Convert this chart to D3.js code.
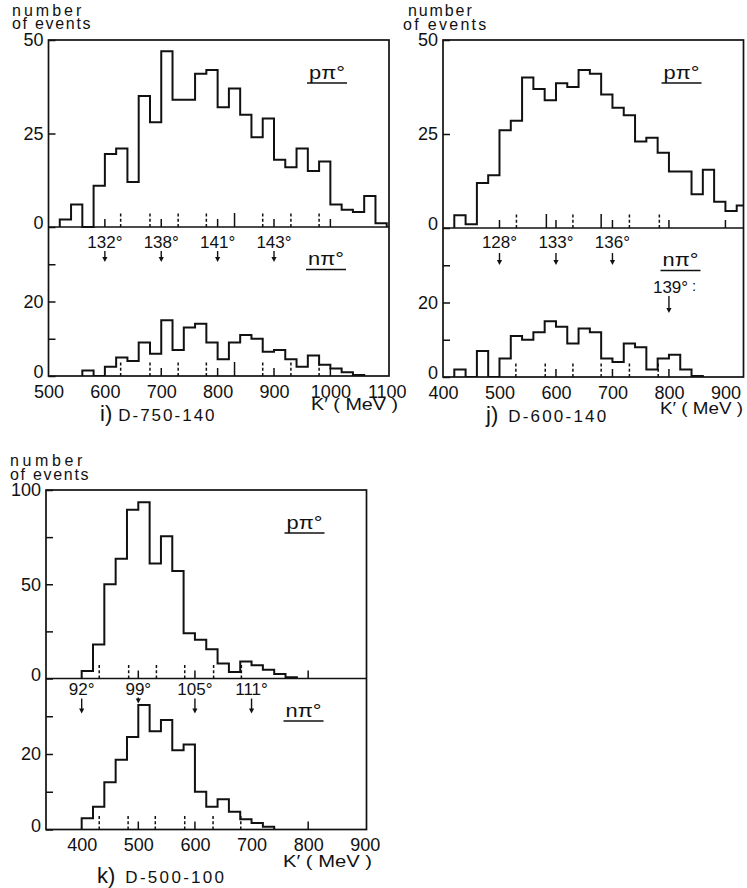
<!DOCTYPE html>
<html>
<head>
<meta charset="utf-8">
<script src="https://cdn.jsdelivr.net/npm/d3@7"></script>
<style>
  body { margin: 0; background: #fff; }
  svg { display: block; }
  text { font-family: "Liberation Sans", Arial, sans-serif; fill: #111; }
</style>
</head>
<body>
<svg id="chart" width="747" height="888"></svg>
<script>
// Histogram bin width (MeV) shared by all spectra
const binWidth = 20;

// ---- i) D-750-140 ----
const iUpperStart = 520;
const iUpperCounts = [2, 6, 0, 11, 19.5, 21, 12, 35, 28, 47, 34, 34, 41, 42, 32, 37, 30, 24, 29, 18, 16, 21, 15, 17.5, 6, 4.6, 4, 8.3, 1];
const iLowerStart = 560;
const iLowerCounts = [1.5, 0, 2.5, 5, 4, 9, 6, 15, 7, 13, 14, 9, 4.5, 9, 11, 10, 6.5, 7, 4.5, 2.5, 5.5, 3, 2, 1, 0.3];
const iEnergyTicks = [500, 600, 700, 800, 900, 1000, 1100];
const iAngles = ["132°", "138°", "141°", "143°"];
const iAngleEnergies = [600, 700, 800, 900];
const iUpperSolid = [600, 700, 800, 900, 1000];
const iUpperTall = [830];
const iUpperDashed = [628, 680, 730, 780, 880, 930, 980];
const iLowerSolid = [700, 800, 900, 1000];
const iLowerTall = [830];
const iLowerDashed = [628, 680, 730, 780, 880, 930, 980];

// ---- j) D-600-140 ----
const jUpperStart = 420;
const jUpperCounts = [3.4, 1, 12, 14, 26, 28.5, 40, 37, 34, 38.5, 37.5, 42, 41, 35.5, 32, 30, 23, 24, 20, 15, 15, 9, 15.5, 7, 4.5, 6];
const jLowerStart = 420;
const jLowerCounts = [2, 0, 7, 0, 5, 11, 10, 12, 15, 13.5, 9, 13, 12, 5, 4, 9, 8, 2, 5, 6, 2, 0.3];
const jEnergyTicks = [400, 500, 600, 700, 800, 900];
const jAngles = ["128°", "133°", "136°", "139°"];
const jAngleEnergies = [500, 600, 700, 800];
const jUpperSolid = [500, 600, 700, 800, 900];
const jUpperTall = [583, 680];
const jUpperDashed = [530, 630, 730, 783];
const jLowerSolid = [600, 700, 800];
const jLowerTall = [];
const jLowerDashed = [529, 581, 630, 680, 730, 781];

// ---- k) D-500-100 ----
const kUpperStart = 400;
const kUpperCounts = [4, 18, 50, 63.5, 89.5, 93.5, 61, 75.5, 57, 24, 20.5, 15.5, 8, 3.5, 9, 7, 4.7, 2.4, 0.7];
const kLowerStart = 400;
const kLowerCounts = [3, 6, 12.5, 18.5, 24.5, 33, 26, 29, 21, 22.5, 10, 6, 8, 4.7, 2.7, 1.7, 0.7];
const kEnergyTicks = [400, 500, 600, 700, 800, 900];
const kAngles = ["92°", "99°", "105°", "111°"];
const kAngleEnergies = [400, 500, 600, 700];
const kUpperSolid = [500, 600, 800];
const kUpperTall = [];
const kUpperDashed = [431, 483, 532, 582, 633, 682];
const kLowerSolid = [500, 600, 800];
const kLowerTall = [];
const kLowerDashed = [431, 482, 530, 582, 632, 681];

// Count axes
const upperTicks50 = [0, 25, 50];
const upperLabels50 = [0, 25, 50];
const upperTicks100 = [0, 25, 50, 75, 100];
const upperLabels100 = [0, 50, 100];
const lowerTicks = [0, 10, 20, 30];
const lowerLabels = [0, 20];

const panels = [
  {
    id: "i", title: "D-750-140", left: 48.5, right: 389, top: 40, mid: 227, bottom: 376, xDomain: [500, 1104],
    upperMax: 50, upperTicks: upperTicks50, upperLabels: upperLabels50,
    upperStart: iUpperStart, upperCounts: iUpperCounts, lowerStart: iLowerStart, lowerCounts: iLowerCounts,
    xTicks: iEnergyTicks, angles: iAngles, angleE: iAngleEnergies,
    angleLayout: [[21, 24, 35], [21, 24, 35], [21, 24, 35], [21, 24, 35]],
    marks: { upper: [iUpperSolid, iUpperTall, iUpperDashed], lower: [iLowerSolid, iLowerTall, iLowerDashed] },
    heading: { x1: 12, y1: 15.5, ls1: 3.0, x2: 12, y2: 29, ls2: 1.7 },
    unit: [311, 410, 87], caption: { x: 100, y: 421, gap: 6, ls: 2.0 }
  },
  {
    id: "j", title: "D-600-140", left: 443, right: 743.5, top: 40, mid: 228, bottom: 377, xDomain: [400, 932],
    upperMax: 50, upperTicks: upperTicks50, upperLabels: upperLabels50,
    upperStart: jUpperStart, upperCounts: jUpperCounts, lowerStart: jLowerStart, lowerCounts: jLowerCounts,
    xTicks: jEnergyTicks, angles: jAngles, angleE: jAngleEnergies,
    angleLayout: [[20, 25, 37], [20, 25, 37], [20, 25, 37], [65, 68, 85]],
    marks: { upper: [jUpperSolid, jUpperTall, jUpperDashed], lower: [jLowerSolid, jLowerTall, jLowerDashed] },
    heading: { x1: 408, y1: 16, ls1: 1.9, x2: 403, y2: 30, ls2: 2.3 },
    unit: [660, 414, 83], caption: { x: 486, y: 422, gap: 10, ls: 2.2 }
  },
  {
    id: "k", title: "D-500-100", left: 46, right: 366.5, top: 490, mid: 678.5, bottom: 829.5, xDomain: [337, 903],
    upperMax: 100, upperTicks: upperTicks100, upperLabels: upperLabels100,
    upperStart: kUpperStart, upperCounts: kUpperCounts, lowerStart: kLowerStart, lowerCounts: kLowerCounts,
    xTicks: kEnergyTicks, angles: kAngles, angleE: kAngleEnergies,
    angleLayout: [[16.5, 20, 35], [16.5, 19, 25], [16.5, 20, 35], [16.5, 20, 35]],
    marks: { upper: [kUpperSolid, kUpperTall, kUpperDashed], lower: [kLowerSolid, kLowerTall, kLowerDashed] },
    heading: { x1: 10, y1: 466, ls1: 3.6, x2: 10, y2: 479.5, ls2: 1.7 },
    unit: [283, 867, 89], caption: { x: 97, y: 883, gap: 10, ls: 2.3 }
  }
];

const svg = d3.select("#chart");
const ink = "#111";

function stepPoints(start, counts) {
  const pts = [[start, 0]];
  counts.forEach((c, i) => {
    pts.push([start + i * binWidth, c]);
    pts.push([start + (i + 1) * binWidth, c]);
  });
  pts.push([start + counts.length * binWidth, 0]);
  return pts;
}

function drawPanel(p) {
  const g = svg.append("g").attr("class", "panel-" + p.id);
  const x = d3.scaleLinear().domain(p.xDomain).range([p.left, p.right]);
  const yU = d3.scaleLinear().domain([0, p.upperMax]).range([p.mid, p.top]);
  const yL = d3.scaleLinear().domain([0, 40]).range([p.bottom, p.mid]);

  const clipId = "clip-" + p.id;
  svg.append("clipPath").attr("id", clipId).append("rect")
    .attr("x", p.left).attr("y", p.top)
    .attr("width", p.right - p.left).attr("height", p.bottom - p.top);

  // histograms
  [[yU, p.upperStart, p.upperCounts], [yL, p.lowerStart, p.lowerCounts]].forEach(([y, start, counts]) => {
    const line = d3.line().x(d => x(d[0])).y(d => y(d[1]));
    g.append("path")
      .attr("clip-path", `url(#${clipId})`)
      .attr("d", line(stepPoints(start, counts)))
      .attr("fill", "none").attr("stroke", ink)
      .attr("stroke-width", 2).attr("stroke-linejoin", "miter");
  });

  // frame and the shared zero line between the two spectra
  g.append("rect")
    .attr("x", p.left).attr("y", p.top)
    .attr("width", p.right - p.left).attr("height", p.bottom - p.top)
    .attr("fill", "none").attr("stroke", ink).attr("stroke-width", 1.7);
  g.append("line")
    .attr("x1", p.left).attr("x2", p.right).attr("y1", yU(0)).attr("y2", yU(0))
    .attr("stroke", ink).attr("stroke-width", 1.7);

  // count axes, ticks pointing inward
  const styleAxis = sel => {
    sel.select(".domain").remove();
    sel.selectAll(".tick line").attr("stroke", ink).attr("stroke-width", 1.5);
    sel.selectAll(".tick text").attr("font-size", 18).attr("fill", ink)
      .attr("font-family", "Liberation Sans, Arial, sans-serif");
    sel.selectAll(".tick").filter(d => d === 0).select("text").attr("y", -4);
  };
  g.append("g").attr("transform", `translate(${p.left},0)`)
    .call(d3.axisLeft(yU).tickValues(p.upperTicks).tickSize(-7).tickPadding(5)
      .tickFormat(d => p.upperLabels.includes(d) ? d : ""))
    .call(styleAxis);
  g.append("g").attr("transform", `translate(${p.left},0)`)
    .call(d3.axisLeft(yL).tickValues(lowerTicks).tickSize(-7).tickPadding(5)
      .tickFormat(d => lowerLabels.includes(d) ? d : ""))
    .call(styleAxis);

  // energy axis labels
  g.append("g").attr("transform", `translate(0,${p.bottom})`)
    .call(d3.axisBottom(x).tickValues(p.xTicks).tickSize(0).tickPadding(9).tickFormat(d3.format("d")))
    .call(sel => {
      sel.select(".domain").remove();
      sel.selectAll(".tick text").attr("font-size", 18).attr("fill", ink)
        .attr("font-family", "Liberation Sans, Arial, sans-serif");
    });

  // kinematic markers standing on each baseline
  const drawMarks = (base, [solid, tall, dashed]) => {
    solid.forEach(e => g.append("line").attr("x1", x(e)).attr("x2", x(e))
      .attr("y1", base).attr("y2", base - 8).attr("stroke", ink).attr("stroke-width", 1.5));
    tall.forEach(e => g.append("line").attr("x1", x(e)).attr("x2", x(e))
      .attr("y1", base).attr("y2", base - 14).attr("stroke", ink).attr("stroke-width", 1.5));
    dashed.forEach(e => g.append("line").attr("x1", x(e)).attr("x2", x(e))
      .attr("y1", base).attr("y2", base - 15).attr("stroke", ink).attr("stroke-width", 1.5)
      .attr("stroke-dasharray", "3,2.2"));
  };
  drawMarks(yU(0), p.marks.upper);
  drawMarks(yL(0), p.marks.lower);

  // angle labels with arrows
  p.angles.forEach((lab, i) => {
    const cx = x(p.angleE[i]);
    const [ty, a1, a2] = p.angleLayout[i];
    const label = g.append("text").attr("x", cx).attr("y", p.mid + ty)
      .attr("text-anchor", "middle").attr("font-size", 17).text(lab);
    if (p.id === "j" && i === 3) {
      label.attr("text-anchor", "start").attr("x", cx - 16);
      label.append("tspan").attr("dx", 4).attr("dy", -2).attr("font-size", 15).text(":");
    }
    g.append("line").attr("x1", cx).attr("x2", cx)
      .attr("y1", p.mid + a1).attr("y2", p.mid + a2 - 3)
      .attr("stroke", ink).attr("stroke-width", 1.4);
    g.append("path")
      .attr("d", `M${cx - 2.6},${p.mid + a2 - 5}L${cx + 2.6},${p.mid + a2 - 5}L${cx},${p.mid + a2}Z`)
      .attr("fill", ink);
  });

  // reaction channel labels
  const channel = (label, tx, ty) => {
    g.append("text").attr("x", tx).attr("y", ty).attr("font-size", 19)
      .attr("textLength", 36).attr("lengthAdjust", "spacingAndGlyphs").text(label);
    g.append("line").attr("x1", tx - 2).attr("x2", tx + 38)
      .attr("y1", ty + 4.5).attr("y2", ty + 4.5).attr("stroke", ink).attr("stroke-width", 1.3);
  };
  channel("pπ°", p.right - 80, p.top + 38.5);
  channel("nπ°", p.right - 81, p.mid + 38);

  // vertical axis heading, two lines in one text block
  const h = p.heading;
  const head = g.append("text").attr("font-size", 16);
  head.append("tspan").attr("x", h.x1).attr("y", h.y1).attr("letter-spacing", h.ls1).text("number");
  head.append("tspan").attr("x", h.x2).attr("y", h.y2).attr("letter-spacing", h.ls2).text("of events");

  // energy axis title
  const [ux, uy, uw] = p.unit;
  g.append("text").attr("x", ux).attr("y", uy).attr("font-size", 17)
    .attr("textLength", uw).attr("lengthAdjust", "spacingAndGlyphs").text("K′ ( MeV )");

  // panel caption
  const c = p.caption;
  const cap = g.append("text").attr("x", c.x).attr("y", c.y);
  cap.append("tspan").attr("font-size", 22).text(p.id + ")");
  cap.append("tspan").attr("dx", c.gap).attr("font-size", 17).attr("letter-spacing", c.ls).text(p.title);
}

panels.forEach(drawPanel);
</script>
</body>
</html>
